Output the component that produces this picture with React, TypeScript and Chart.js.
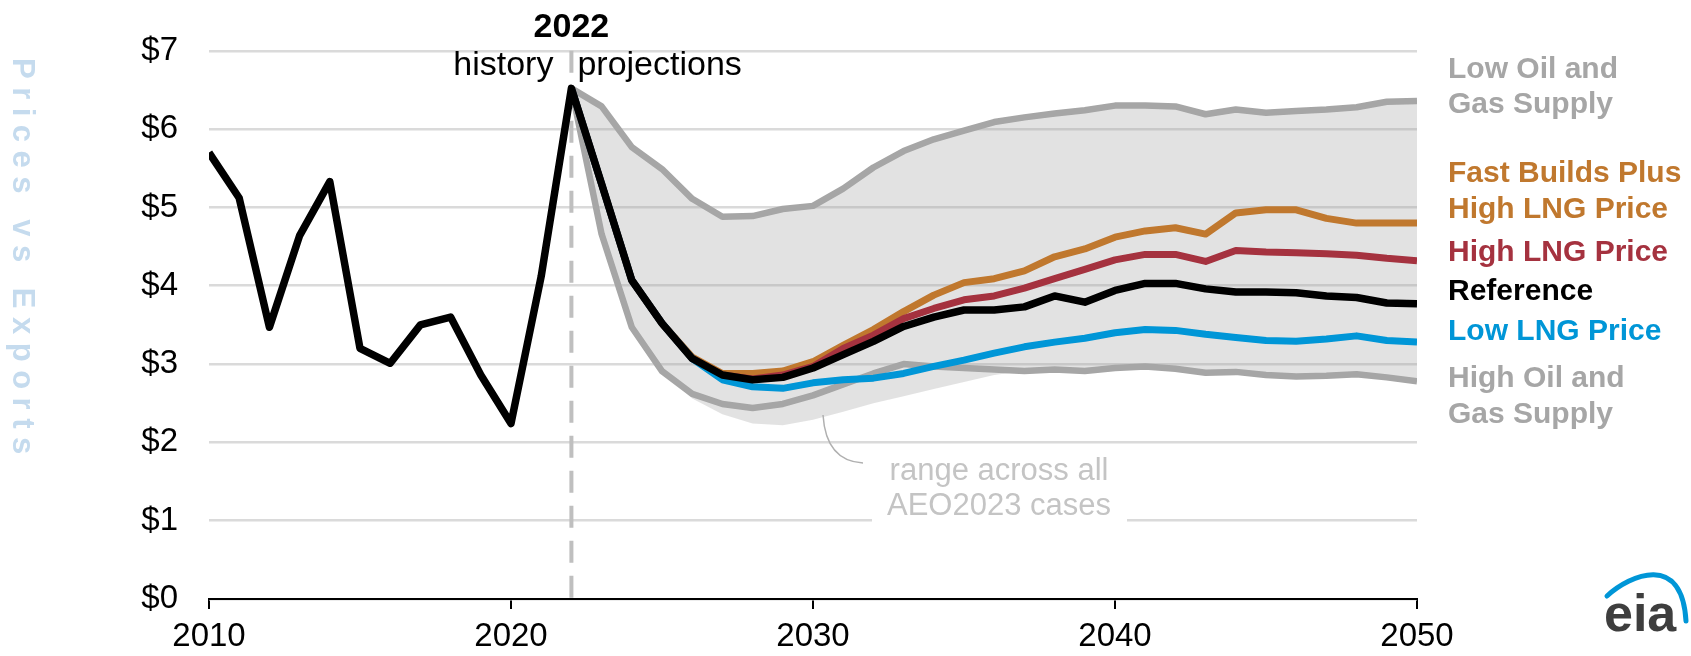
import React, { useEffect, useRef } from "react";
import { Chart, registerables } from "chart.js";

Chart.register(...registerables);

// ---------- data ----------
const historyYears = [2010, 2011, 2012, 2013, 2014, 2015, 2016, 2017, 2018, 2019, 2020, 2021, 2022];
const historyPrices = [5.7, 5.12, 3.47, 4.64, 5.33, 3.2, 3.01, 3.5, 3.6, 2.86, 2.24, 4.12, 6.52];

const projectionYears = [
  2022, 2023, 2024, 2025, 2026, 2027, 2028, 2029, 2030, 2031, 2032, 2033, 2034, 2035, 2036,
  2037, 2038, 2039, 2040, 2041, 2042, 2043, 2044, 2045, 2046, 2047, 2048, 2049, 2050,
];
const referencePrices = [
  6.52, 5.3, 4.07, 3.52, 3.07, 2.86, 2.8, 2.83, 2.95, 3.12, 3.29, 3.48, 3.6, 3.69, 3.69,
  3.73, 3.87, 3.79, 3.94, 4.03, 4.03, 3.96, 3.92, 3.92, 3.91, 3.87, 3.85, 3.78, 3.77,
];
const fastBuildsHighLngPrices = [
  6.52, 5.3, 4.07, 3.52, 3.09, 2.88, 2.88, 2.91, 3.03, 3.24, 3.44, 3.67, 3.88, 4.04, 4.09,
  4.19, 4.37, 4.47, 4.62, 4.7, 4.74, 4.66, 4.93, 4.97, 4.97, 4.86, 4.8, 4.8, 4.8,
];
const highLngPrices = [
  6.52, 5.3, 4.07, 3.52, 3.07, 2.86, 2.81, 2.86, 2.97, 3.2, 3.37, 3.58, 3.71, 3.82, 3.87,
  3.97, 4.09, 4.21, 4.33, 4.4, 4.4, 4.31, 4.45, 4.43, 4.42, 4.41, 4.39, 4.35, 4.32,
];
const lowLngPrices = [
  6.52, 5.3, 4.07, 3.52, 3.07, 2.8, 2.71, 2.69, 2.76, 2.8, 2.82, 2.88, 2.97, 3.05, 3.14,
  3.22, 3.28, 3.33, 3.4, 3.44, 3.43, 3.38, 3.34, 3.3, 3.29, 3.32, 3.36, 3.3, 3.28,
];
const lowOilGasSupplyPrices = [
  6.52, 6.29, 5.77, 5.49, 5.11, 4.88, 4.89, 4.98, 5.02, 5.24, 5.51, 5.72, 5.87, 5.98, 6.09,
  6.15, 6.2, 6.24, 6.3, 6.3, 6.29, 6.19, 6.25, 6.21, 6.23, 6.25, 6.28, 6.35, 6.36,
];
const highOilGasSupplyPrices = [
  6.52, 4.66, 3.47, 2.91, 2.62, 2.49, 2.44, 2.49, 2.6, 2.74, 2.88, 3.0, 2.97, 2.95, 2.93,
  2.91, 2.93, 2.91, 2.95, 2.97, 2.94, 2.89, 2.9, 2.86, 2.84, 2.85, 2.87, 2.83, 2.78,
];
// lower edge of the shaded "range across all AEO2023 cases"
const rangeLowPrices = [
  6.52, 4.66, 3.47, 2.91, 2.56, 2.36, 2.24, 2.22, 2.29, 2.39, 2.5, 2.59, 2.68, 2.77, 2.86,
  2.91, 2.93, 2.91, 2.95, 2.97, 2.94, 2.89, 2.9, 2.86, 2.84, 2.85, 2.87, 2.83, 2.78,
];

const xTicks = [2010, 2020, 2030, 2040, 2050];
const yTicks = [0, 1, 2, 3, 4, 5, 6, 7];
const dividerYear = 2022;

const COLORS = {
  reference: "#000000",
  fast: "#C0782E",
  high: "#A5323F",
  low: "#0096D7",
  gray: "#A6A6A6",
  band: "rgba(160,160,160,0.30)",
  grid: "#DADADA",
};

const FONT = "'Liberation Sans', Arial, Helvetica, sans-serif";

const pts = (xs: number[], ys: number[]) => xs.map((x, i) => ({ x, y: ys[i] }));

const referenceAll = pts(
  historyYears.slice(0, -1).concat(projectionYears),
  historyPrices.slice(0, -1).concat(referencePrices)
);

const rightLabels: { lines: string[]; color: string; baselines: number[] }[] = [
  { lines: ["Low Oil and", "Gas Supply"], color: COLORS.gray, baselines: [77.5, 113] },
  { lines: ["Fast Builds Plus", "High LNG Price"], color: COLORS.fast, baselines: [181.5, 217.5] },
  { lines: ["High LNG Price"], color: COLORS.high, baselines: [261] },
  { lines: ["Reference"], color: COLORS.reference, baselines: [299.5] },
  { lines: ["Low LNG Price"], color: COLORS.low, baselines: [340] },
  { lines: ["High Oil and", "Gas Supply"], color: COLORS.gray, baselines: [386.5, 423] },
];

const overlayPlugin = {
  id: "overlay",
  beforeDatasetsDraw(chart: any) {
    const { ctx, scales } = chart;
    const x = scales.x.getPixelForValue(dividerYear);
    ctx.save();
    ctx.strokeStyle = "#BFBFBF";
    ctx.lineWidth = 4;
    ctx.setLineDash([22, 13]);
    ctx.beginPath();
    ctx.moveTo(x, scales.y.getPixelForValue(7));
    ctx.lineTo(x, scales.y.getPixelForValue(0));
    ctx.stroke();
    ctx.restore();

    // white box behind annotation text
    ctx.save();
    ctx.fillStyle = "#ffffff";
    ctx.fillRect(872, 452, 255, 72);
    ctx.restore();
  },
  afterDraw(chart: any) {
    const { ctx, scales, chartArea } = chart;
    const xDiv = scales.x.getPixelForValue(dividerYear);
    ctx.save();
    // 2022 / history / projections
    ctx.fillStyle = "#000";
    ctx.textBaseline = "alphabetic";
    ctx.font = `bold 34px ${FONT}`;
    ctx.textAlign = "center";
    ctx.fillText("2022", xDiv, 37);
    ctx.font = `34px ${FONT}`;
    ctx.textAlign = "right";
    ctx.fillText("history", xDiv - 18, 75);
    ctx.textAlign = "left";
    ctx.fillText("projections", xDiv + 6, 75);

    // right-side series labels
    ctx.font = `bold 30px ${FONT}`;
    ctx.textAlign = "left";
    const lx = chartArea.right + 31;
    for (const lab of rightLabels) {
      ctx.fillStyle = lab.color;
      lab.lines.forEach((t, i) => ctx.fillText(t, lx, lab.baselines[i]));
    }

    // annotation
    ctx.fillStyle = "#C4C4C4";
    ctx.font = `31px ${FONT}`;
    ctx.textAlign = "center";
    ctx.fillText("range across all", 999, 480);
    ctx.fillText("AEO2023 cases", 999, 515);
    ctx.strokeStyle = "#B0B0B0";
    ctx.lineWidth = 1.5;
    ctx.beginPath();
    ctx.moveTo(823, 415);
    ctx.quadraticCurveTo(826, 461, 863, 463);
    ctx.stroke();

    // vertical axis title
    ctx.save();
    ctx.translate(13, 58);
    ctx.rotate(Math.PI / 2);
    ctx.fillStyle = "#C5DBEE";
    ctx.font = `bold 31px ${FONT}`;
    (ctx as any).letterSpacing = "8.5px";
    ctx.textAlign = "left";
    ctx.fillText("Prices vs Exports", 0, 0);
    ctx.restore();

    // eia logo
    ctx.fillStyle = "#3E3E3E";
    ctx.font = `bold 52px ${FONT}`;
    ctx.textAlign = "left";
    ctx.fillText("eia", 1604, 631);
    ctx.strokeStyle = "#0096D7";
    ctx.lineWidth = 5;
    ctx.lineCap = "round";
    ctx.beginPath();
    ctx.moveTo(1607, 596);
    ctx.bezierCurveTo(1630, 575, 1682, 552, 1686, 621);
    ctx.stroke();
    ctx.restore();
  },
};

export default function App() {
  const ref = useRef<HTMLCanvasElement | null>(null);

  useEffect(() => {
    if (!ref.current) return;
    const line = (label: string, data: any[], color: string, width: number, order: number) => ({
      label,
      data,
      borderColor: color,
      backgroundColor: color,
      borderWidth: width,
      pointRadius: 0,
      tension: 0,
      fill: false,
      order,
      borderJoinStyle: "round" as const,
      borderCapStyle: "butt" as const,
    });
    const chart = new Chart(ref.current, {
      type: "line",
      data: {
        datasets: [
          line("Reference", referenceAll, COLORS.reference, 7.5, 0),
          line("Low LNG Price", pts(projectionYears, lowLngPrices), COLORS.low, 7, 1),
          line("High LNG Price", pts(projectionYears, highLngPrices), COLORS.high, 7, 2),
          line("Fast Builds Plus High LNG Price", pts(projectionYears, fastBuildsHighLngPrices), COLORS.fast, 7, 3),
          line("Low Oil and Gas Supply", pts(projectionYears, lowOilGasSupplyPrices), COLORS.gray, 6.5, 4),
          line("High Oil and Gas Supply", pts(projectionYears, highOilGasSupplyPrices), COLORS.gray, 6.5, 5),
          {
            label: "range low",
            data: pts(projectionYears, rangeLowPrices),
            borderWidth: 0,
            borderColor: "rgba(0,0,0,0)",
            pointRadius: 0,
            fill: false,
            order: 10,
          },
          {
            label: "range high",
            data: pts(projectionYears, lowOilGasSupplyPrices),
            borderWidth: 0,
            borderColor: "rgba(0,0,0,0)",
            backgroundColor: COLORS.band,
            pointRadius: 0,
            fill: 6,
            order: 11,
          },
        ] as any,
      },
      options: {
        responsive: false,
        animation: false,
        devicePixelRatio: 1,
        layout: { padding: { left: 0, right: 274, top: 48, bottom: 0 } },
        plugins: { legend: { display: false }, tooltip: { enabled: false } },
        events: [],
        scales: {
          x: {
            type: "linear",
            min: 2010,
            max: 2050,
            afterBuildTicks: (s: any) => {
              s.ticks = xTicks.map((v) => ({ value: v }));
            },
            afterFit: (s: any) => {
              s.height = 57;
            },
            ticks: {
              callback: (v: any) => String(v),
              color: "#000",
              font: { family: FONT, size: 33 },
              padding: 8,
              maxRotation: 0,
            },
            grid: {
              drawOnChartArea: false,
              drawTicks: true,
              tickLength: 10,
              color: "#000",
              lineWidth: 2,
            },
            border: { display: true, color: "#000", width: 2 },
          },
          y: {
            type: "linear",
            min: 0,
            max: 7,
            afterBuildTicks: (s: any) => {
              s.ticks = yTicks.map((v) => ({ value: v }));
            },
            afterFit: (s: any) => {
              s.width = 209;
            },
            ticks: {
              callback: (v: any) => "$" + v,
              color: "#000",
              font: { family: FONT, size: 33 },
              padding: 31,
            },
            grid: { color: COLORS.grid, lineWidth: 2.5, drawTicks: false },
            border: { display: false },
          },
        },
      },
      plugins: [overlayPlugin],
    });
    return () => chart.destroy();
  }, []);

  return (
    <div style={{ position: "absolute", left: 0, top: 0, width: 1691, height: 656, background: "#fff" }}>
      <canvas ref={ref} width={1691} height={656} style={{ display: "block", width: 1691, height: 656 }} />
    </div>
  );
}
